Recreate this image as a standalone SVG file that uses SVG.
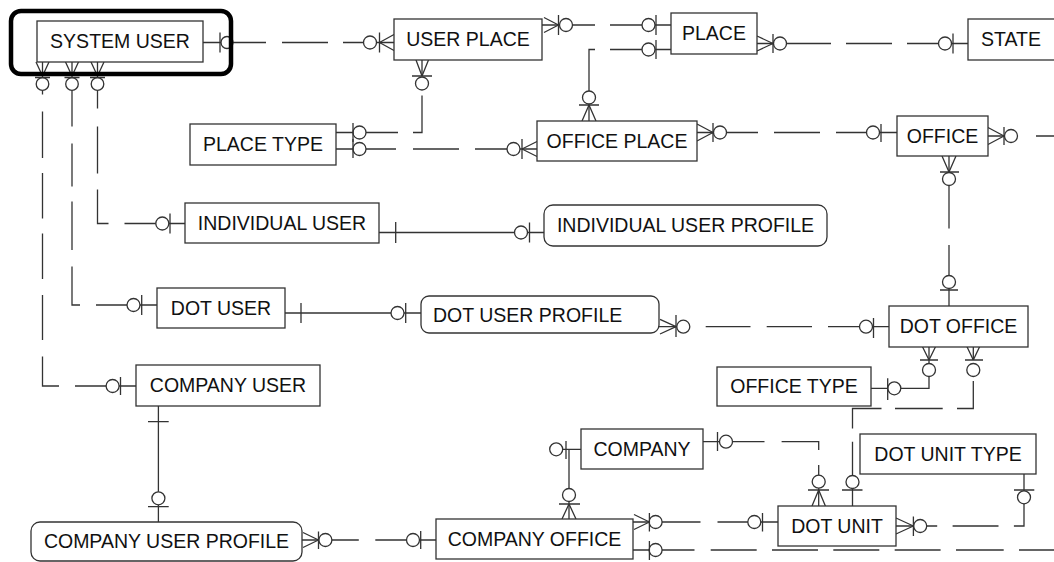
<svg xmlns="http://www.w3.org/2000/svg" width="1054" height="562" viewBox="0 0 1054 562">
  <style>
    .box { fill: #fff; stroke: #333; stroke-width: 1.3; }
    .ln { fill: none; stroke: #333; stroke-width: 1.3; }
    .o { fill: #fff; stroke: #333; stroke-width: 1.3; }
    text { font-family: "Liberation Sans", Arial, sans-serif; font-size: 19.5px; fill: #111; text-anchor: middle; }
    .start { text-anchor: start; }
  </style>
  <rect width="1054" height="562" fill="#fff"/>

  <!-- relationship lines with their cardinality marks -->
  <g id="connectors">
    <g id="system-user--user-place">
      <path class="ln" d="M203 42.5H266M282 42.5H328M343 42.5H394"/>
      <circle class="o" cx="227" cy="42.5" r="6"/>
      <circle class="o" cx="370" cy="42.5" r="6.5"/>
      <path class="ln" d="M220 32.5V52.5M379.5 32.5V52.5M379.5 42.5L394 34.5M379.5 42.5L394 50.5"/>
    </g>
    <g id="user-place--place">
      <path class="ln" d="M542 25H595M610 25H671"/>
      <circle class="o" cx="566" cy="25" r="6.5"/>
      <circle class="o" cx="648.5" cy="25" r="6.5"/>
      <path class="ln" d="M544 17.5L558.5 25M544 32.5L558.5 25M558.5 15V35M656 15V35"/>
    </g>
    <g id="office-place--place">
      <path class="ln" d="M589 121V49.5H595M610 49.5H671"/>
      <circle class="o" cx="589" cy="97.5" r="6.5"/>
      <circle class="o" cx="648.5" cy="49.5" r="6.5"/>
      <path class="ln" d="M579 105H599M582 121L589 105M596 121L589 105M656 40V59"/>
    </g>
    <g id="place--state">
      <path class="ln" d="M757 43.5H831M846 43.5H892M907 43.5H968"/>
      <circle class="o" cx="780" cy="43.5" r="6.5"/>
      <circle class="o" cx="945" cy="43.5" r="6.5"/>
      <path class="ln" d="M757 36L773 43.5M757 51L773 43.5M773 34V53M953 33.5V53.5"/>
    </g>
    <g id="place-type--user-place">
      <path class="ln" d="M422 60V76M422 95.5V132.5H413M398 132.5H336"/>
      <circle class="o" cx="422" cy="83.5" r="6.5"/>
      <circle class="o" cx="359.5" cy="132.5" r="6.5"/>
      <path class="ln" d="M416 60L422 76M428.5 60L422 76M412 76H432M353 123V142"/>
    </g>
    <g id="place-type--office-place">
      <path class="ln" d="M336 149H396M413 149H459M475 149H537"/>
      <circle class="o" cx="359.5" cy="149" r="6.5"/>
      <circle class="o" cx="513.5" cy="149" r="6.5"/>
      <path class="ln" d="M353 139V158M522 139V159M522 149L537 141.5M522 149L537 156.5"/>
    </g>
    <g id="office-place--office">
      <path class="ln" d="M697 132.5H758M774 132.5H820M836 132.5H897"/>
      <circle class="o" cx="720" cy="132.5" r="6.5"/>
      <circle class="o" cx="873" cy="132.5" r="6.5"/>
      <path class="ln" d="M697 124L713 132.5M697 141L713 132.5M713 123V142M881 124V142"/>
    </g>
    <g id="office--outside">
      <path class="ln" d="M988 136H1004M1036 136H1054"/>
      <circle class="o" cx="1011" cy="136" r="6.5"/>
      <path class="ln" d="M988 127.5L1004 136M988 144.5L1004 136M1004 127V145"/>
    </g>
    <g id="office--dot-office">
      <path class="ln" d="M949 156V172M949 186V228.5M949 245V306"/>
      <circle class="o" cx="949" cy="179" r="6.5"/>
      <circle class="o" cx="949" cy="282" r="6.5"/>
      <path class="ln" d="M942 156L949 172M956 156L949 172M940 172H959M940 290H958"/>
    </g>
    <g id="system-user--individual-user">
      <path class="ln" d="M97.5 62V77.5M97.5 90.5V108.5M97.5 126.5V173.5M97.5 189.5V223.5H108.5M124.5 223.5H185"/>
      <circle class="o" cx="97.5" cy="84" r="6.3"/>
      <circle class="o" cx="162.3" cy="223.5" r="6.5"/>
      <path class="ln" d="M91 62L97.5 76M104 62L97.5 76M90 77.5H105M170 213.5V233.5"/>
    </g>
    <g id="system-user--dot-user">
      <path class="ln" d="M72 62V77.5M72 90.5V126.5M72 143.5V186.5M72 201.5V250M72 266.5V305H80M96 305H157"/>
      <circle class="o" cx="72" cy="84" r="6.3"/>
      <circle class="o" cx="133.5" cy="305" r="6.5"/>
      <path class="ln" d="M65.5 62L72 76M78.5 62L72 76M64.5 77.5H79.5M141.7 295V315"/>
    </g>
    <g id="system-user--company-user">
      <path class="ln" d="M42.5 62V77.5M42.5 90.5V94.5M42.5 111.5V158M42.5 173V218.5M42.5 233.5V279M42.5 295V340M42.5 356.5V386H59M75 386H136"/>
      <circle class="o" cx="42.5" cy="84" r="6.3"/>
      <circle class="o" cx="112.6" cy="386" r="6.5"/>
      <path class="ln" d="M36 62L42.5 76M49 62L42.5 76M35 77.5H50M120.5 377V395"/>
    </g>
    <g id="individual-user--profile">
      <path class="ln" d="M379 232.5H544"/>
      <circle class="o" cx="521" cy="232.5" r="6.5"/>
      <path class="ln" d="M395.7 222V243M529.5 222.5V242.5"/>
    </g>
    <g id="dot-user--profile">
      <path class="ln" d="M285 313H421"/>
      <circle class="o" cx="397.5" cy="313" r="6.5"/>
      <path class="ln" d="M301 303V323M405.7 303V323"/>
    </g>
    <g id="dot-user-profile--dot-office">
      <path class="ln" d="M659 326.7H683M705.7 326.7H750.5M766.7 326.7H812M828 326.7H889"/>
      <circle class="o" cx="683.3" cy="326.7" r="6.5"/>
      <circle class="o" cx="866" cy="326.7" r="6.5"/>
      <path class="ln" d="M660 319.3L676 326.7M660 334L676 326.7M676 315V337M873.5 318V338"/>
    </g>
    <g id="office-type--dot-office">
      <path class="ln" d="M871 388.3H929V346.7"/>
      <circle class="o" cx="894.3" cy="388.3" r="6.5"/>
      <circle class="o" cx="929" cy="370" r="6.5"/>
      <path class="ln" d="M887.7 378.3V400M920 360H938M922.5 346.7L929 360M935.5 346.7L929 360"/>
    </g>
    <g id="dot-office--dot-unit">
      <path class="ln" d="M973.3 346.7V360M973.3 381V408.5H957M942.7 408.5H895M881.5 408.5H852.5V428.5M852.5 441.7V506"/>
      <circle class="o" cx="973.3" cy="370" r="6.5"/>
      <circle class="o" cx="852.5" cy="482" r="6.5"/>
      <path class="ln" d="M965 360H983M967 346.7L973.3 360M979.6 346.7L973.3 360M842 490H862.5"/>
    </g>
    <g id="company--dot-unit">
      <path class="ln" d="M703 441.7H764.5M781.6 441.7H818.7V450M818.7 465V506"/>
      <circle class="o" cx="726" cy="441.7" r="6.5"/>
      <circle class="o" cx="818.7" cy="481.7" r="6.5"/>
      <path class="ln" d="M717.5 432V451M808 490H829M812 506L818.7 490M825.4 506L818.7 490"/>
    </g>
    <g id="company--company-office">
      <path class="ln" d="M562.5 449.3H581M569 449.3V519"/>
      <circle class="o" cx="556.2" cy="449.3" r="6.5"/>
      <circle class="o" cx="569" cy="495" r="6.5"/>
      <path class="ln" d="M566 441V459M559 504H580M562 519L569 504M576 519L569 504"/>
    </g>
    <g id="company-office--dot-unit">
      <path class="ln" d="M633 522H700.5M717.5 522H778"/>
      <circle class="o" cx="655.6" cy="522" r="6.5"/>
      <circle class="o" cx="754.3" cy="522" r="6.5"/>
      <path class="ln" d="M634 514.5L649.4 522M634 529.5L649.4 522M649.4 513V531.5M762.5 513V531.5"/>
    </g>
    <g id="company-office--outside">
      <path class="ln" d="M633 550H694.5M710.7 550H756.7M772 550H818M833.3 550H879.3M894.7 550H940.6M956 550H1003.7M1019 550H1054"/>
      <circle class="o" cx="655.6" cy="550" r="6.5"/>
      <path class="ln" d="M649.4 541V560"/>
    </g>
    <g id="dot-unit--dot-unit-type">
      <path class="ln" d="M896 526H913.4M926.7 526H937.2M952.6 526H998.5M1013.9 526H1024V474"/>
      <circle class="o" cx="920.2" cy="526" r="6.5"/>
      <circle class="o" cx="1024" cy="497.3" r="6.5"/>
      <path class="ln" d="M896 518L913.4 526M896 534L913.4 526M913.4 516.5V536M1014 490H1034.3"/>
    </g>
    <g id="company-user--profile">
      <path class="ln" d="M158.4 406V522"/>
      <circle class="o" cx="158.4" cy="498.3" r="6.5"/>
      <path class="ln" d="M148 421.7H168.7M148 506.7H168.7"/>
    </g>
    <g id="company-user-profile--company-office">
      <path class="ln" d="M302 540H358.8M375.3 540H436"/>
      <circle class="o" cx="325.4" cy="540" r="6.5"/>
      <circle class="o" cx="413" cy="540" r="6.5"/>
      <path class="ln" d="M303 532.5L318.5 540M303 547.5L318.5 540M318.5 531.5V549M420.7 531V549"/>
    </g>
  </g>

  <!-- entities -->
  <g id="system-user">
    <rect class="box" x="37" y="21" width="166" height="41"/>
    <text x="120" y="48">SYSTEM USER</text>
  </g>
  <g id="user-place">
    <rect class="box" x="394" y="19" width="148" height="41"/>
    <text x="468" y="46">USER PLACE</text>
  </g>
  <g id="place">
    <rect class="box" x="671" y="13" width="86" height="41"/>
    <text x="714" y="40">PLACE</text>
  </g>
  <g id="state">
    <rect class="box" x="968" y="19" width="92" height="41"/>
    <text class="start" x="981" y="46">STATE</text>
  </g>
  <g id="place-type">
    <rect class="box" x="190" y="124" width="146" height="41"/>
    <text x="263" y="151">PLACE TYPE</text>
  </g>
  <g id="office-place">
    <rect class="box" x="537" y="121" width="160" height="40"/>
    <text x="617" y="147.5">OFFICE PLACE</text>
  </g>
  <g id="office">
    <rect class="box" x="897" y="116" width="91" height="40"/>
    <text x="942.5" y="142.5">OFFICE</text>
  </g>
  <g id="individual-user">
    <rect class="box" x="185" y="203" width="194" height="40"/>
    <text x="282" y="229.5">INDIVIDUAL USER</text>
  </g>
  <g id="individual-user-profile">
    <rect class="box" x="544" y="205" width="283" height="41" rx="9"/>
    <text x="685.5" y="232">INDIVIDUAL USER PROFILE</text>
  </g>
  <g id="dot-user">
    <rect class="box" x="157" y="288" width="128" height="40"/>
    <text x="221" y="314.5">DOT USER</text>
  </g>
  <g id="dot-user-profile">
    <rect class="box" x="421" y="296" width="238" height="37" rx="8"/>
    <text class="start" x="433" y="321.5">DOT USER PROFILE</text>
  </g>
  <g id="dot-office">
    <rect class="box" x="889" y="306" width="139" height="41"/>
    <text x="958.5" y="333">DOT OFFICE</text>
  </g>
  <g id="office-type">
    <rect class="box" x="717" y="367" width="154" height="39"/>
    <text x="794" y="393">OFFICE TYPE</text>
  </g>
  <g id="company-user">
    <rect class="box" x="136" y="365" width="184" height="41"/>
    <text x="228" y="392">COMPANY USER</text>
  </g>
  <g id="company-user-profile">
    <rect class="box" x="31" y="522" width="271" height="39" rx="9"/>
    <text x="166.5" y="548">COMPANY USER PROFILE</text>
  </g>
  <g id="company-office">
    <rect class="box" x="436" y="519" width="197" height="40"/>
    <text x="534.5" y="545.5">COMPANY OFFICE</text>
  </g>
  <g id="company">
    <rect class="box" x="581" y="429" width="122" height="40"/>
    <text x="642" y="455.5">COMPANY</text>
  </g>
  <g id="dot-unit">
    <rect class="box" x="778" y="506" width="118" height="40"/>
    <text x="837" y="532.5">DOT UNIT</text>
  </g>
  <g id="dot-unit-type">
    <rect class="box" x="860" y="434" width="176" height="40"/>
    <text x="948" y="460.5">DOT UNIT TYPE</text>
  </g>

  <!-- selection frame around the system user entity -->
  <rect id="selection" x="11" y="11" width="220" height="63" rx="10" fill="none" stroke="#000" stroke-width="4.5"/>
</svg>
